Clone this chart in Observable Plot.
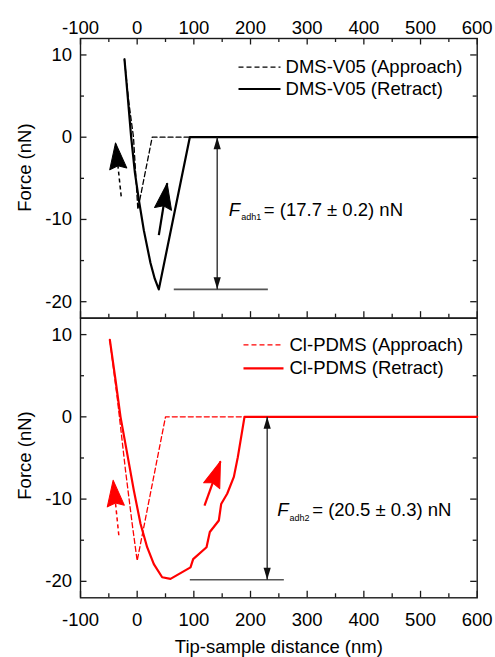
<!DOCTYPE html>
<html>
<head>
<meta charset="utf-8">
<script src="https://cdn.jsdelivr.net/npm/d3@7"></script>
<script src="https://cdn.jsdelivr.net/npm/@observablehq/plot@0.6"></script>
<style>
  html, body { margin: 0; padding: 0; background: #fff; }
  #chart { width: 495px; height: 657px; }
</style>
</head>
<body>
<div id="chart"></div>
<script>
// ---------- data ----------
const panels = ["DMS-V05", "Cl-PDMS"];
const panelColors = ["#000000", "#ff0000"];

const xTickValues = [-100, 0, 100, 200, 300, 400, 500, 600];
const xMinorValues = [-50, 50, 150, 250, 350, 450, 550];
const yTickValues = [-20, -10, 0, 10];
const yMinorValues = [-15, -5, 5];

const xLabel = "Tip-sample distance (nm)";
const yLabel = "Force (nN)";

// DMS-V05 approach (dashed) and retract (solid)
const dmsApproachX = [-22.4, -15, -6.5, 1.2, 26.5, 600];
const dmsApproachY = [9.4, 4.4, 0, -8.8, 0, 0];
const dmsRetractX = [-22.4, -16.5, -10.6, -4, 2.9, 11.7, 23.5, 31, 38.2, 92.9, 600];
const dmsRetractY = [9.48, 4.8, 0, -4.3, -7.6, -11.3, -15.3, -17.2, -18.5, 0, 0];

// Cl-PDMS approach (dashed) and retract (solid)
const clApproachX = [-48.2, -35.3, -20.6, -8.8, 0, 50, 600];
const clApproachY = [9.35, 2.4, -6.5, -13.0, -17.5, 0, 0];
const clRetractX = [-48.2, -38.2, -29.4, -17.6, -5.9, 5.9, 17.6, 29.4, 44.1, 58.8, 94.1, 98.8, 122.4, 128.2, 144.1, 148.2, 158.8, 170.6, 177.6, 189.4, 600];
const clRetractY = [9.35, 4.48, 0, -4.47, -8.94, -13.0, -15.85, -17.9, -19.5, -19.7, -18.3, -17.3, -15.85, -14.0, -12.6, -10.6, -9.35, -7.3, -4.9, 0, 0];

// direction arrows: panel index, tail, tip, dashed?
const arrowPanel = [0, 0, 1, 1];
const arrowTailX = [-28.2, 38.2, -32.4, 118.8];
const arrowTailY = [-7.2, -11.9, -14.4, -10.8];
const arrowTipX = [-38.2, 53.0, -42.4, 147.0];
const arrowTipY = [-0.7, -5.6, -7.7, -5.4];
const arrowDashed = [true, false, true, false];

// adhesion-force annotation
const adhX = [141.2, 229.4];
const adhTop = [0, 0];
const adhBottom = [-18.5, -19.8];
const adhBaseX1 = [64.6, 92.9];
const adhBaseX2 = [230.6, 258.8];
const adhTextX = [161.7, 247.1];
const adhTextY = [-8.8, -11.3];
const adhSub = ["adh1", "adh2"];
const adhValue = ["= (17.7 \u00b1 0.2) nN", "= (20.5 \u00b1 0.3) nN"];

// legends
const legendLineX1 = [178.8, 187.6];
const legendLineX2 = [252.9, 258.2];
const legendTextX = [261.8, 268.8];
const legendApproachY = [8.53, 8.74];
const legendRetractY = [5.86, 5.9];
const legendApproachText = ["DMS-V05 (Approach)", "Cl-PDMS (Approach)"];
const legendRetractText = ["DMS-V05 (Retract)", "Cl-PDMS (Retract)"];

const forceLabelY = [-3.7, -4.7];

// ---------- layout ----------
const W = 495, H = 657;
const mL = 80, mR = 18.3, mT = 38, mB = 59.7;
const frameW = W - mL - mR;
const facetH = (H - mT - mB) / 2;
const xDomain = [-100, 600], yDomain = [-22, 12];
const kx = frameW / (xDomain[1] - xDomain[0]);
const ky = facetH / (yDomain[1] - yDomain[0]);
const screenAngle = (x1, y1, x2, y2) => Math.atan2((x2 - x1) * kx, (y2 - y1) * ky) * 180 / Math.PI;

const headShape = (wRatio, notch) => ({
  draw(ctx, l) {
    const w = l * wRatio;
    ctx.moveTo(0, -l);
    ctx.lineTo(w, 0);
    ctx.lineTo(0, -l * notch);
    ctx.lineTo(-w, 0);
    ctx.closePath();
  }
});

const series = (pi, xs, ys) => xs.map((x, i) => ({panel: panels[pi], x, y: ys[i]}));

const arrows = arrowPanel.map((p, i) => ({
  panel: panels[p], color: panelColors[p], dashed: arrowDashed[i],
  x1: arrowTailX[i], y1: arrowTailY[i], x2: arrowTipX[i], y2: arrowTipY[i],
  angle: screenAngle(arrowTailX[i], arrowTailY[i], arrowTipX[i], arrowTipY[i])
}));

const adh = panels.map((p, i) => ({
  panel: p, x: adhX[i], top: adhTop[i], bottom: adhBottom[i],
  bx1: adhBaseX1[i], bx2: adhBaseX2[i], tx: adhTextX[i], ty: adhTextY[i],
  sub: adhSub[i], value: adhValue[i]
}));

const legend = panels.map((p, i) => ({
  panel: p, x1: legendLineX1[i], x2: legendLineX2[i], tx: legendTextX[i],
  ya: legendApproachY[i], yr: legendRetractY[i],
  ta: legendApproachText[i], tr: legendRetractText[i], color: panelColors[i]
}));

const topTicks = xTickValues.map(v => ({panel: panels[0], x: v}));
const topMinor = xMinorValues.map(v => ({panel: panels[0], x: v}));

const fmt = d => String(d);
const axisColor = "#1a1a1a";
const marks = [
  Plot.frame({stroke: axisColor, strokeWidth: 1.4}),
  // inward ticks
  Plot.tickX(xTickValues, {x: d => d, insetTop: facetH - 6.5, stroke: axisColor, strokeWidth: 1.3}),
  Plot.tickX(xMinorValues, {x: d => d, insetTop: facetH - 4, stroke: axisColor, strokeWidth: 1.3}),
  Plot.tickX(topTicks, {x: "x", fy: "panel", insetBottom: facetH - 6.5, stroke: axisColor, strokeWidth: 1.3}),
  Plot.tickX(topMinor, {x: "x", fy: "panel", insetBottom: facetH - 4, stroke: axisColor, strokeWidth: 1.3}),
  Plot.tickY(yTickValues, {y: d => d, insetRight: frameW - 6.5, stroke: axisColor, strokeWidth: 1.3}),
  Plot.tickY(yMinorValues, {y: d => d, insetRight: frameW - 4, stroke: axisColor, strokeWidth: 1.3}),
  Plot.tickY(yTickValues, {y: d => d, insetLeft: frameW - 6.5, stroke: axisColor, strokeWidth: 1.3}),
  Plot.tickY(yMinorValues, {y: d => d, insetLeft: frameW - 4, stroke: axisColor, strokeWidth: 1.3}),
  // tick labels
  Plot.axisX(xTickValues, {anchor: "top", tickSize: 0, tickPadding: 5, label: null, tickFormat: fmt, fill: "#000"}),
  Plot.axisX(xTickValues, {anchor: "bottom", tickSize: 0, tickPadding: 15.5, label: null, tickFormat: fmt, fill: "#000"}),
  Plot.axisY(yTickValues, {anchor: "left", tickSize: 0, tickPadding: 8.5, label: null, tickFormat: fmt, fill: "#000"}),
  // axis titles
  Plot.text(panels.map((p, i) => ({panel: p, y: forceLabelY[i]})), {
    fy: "panel", y: "y", frameAnchor: "left", dx: -55, rotate: -90, text: () => yLabel, textAnchor: "middle", fill: "#000"
  }),
  Plot.text([{panel: panels[1]}], {fy: "panel", frameAnchor: "bottom", dy: 55, text: () => xLabel, fill: "#000"}),
];

// curves
const curves = [
  [0, dmsApproachX, dmsApproachY, true],
  [0, dmsRetractX, dmsRetractY, false],
  [1, clApproachX, clApproachY, true],
  [1, clRetractX, clRetractY, false]
];
for (const [pi, xs, ys, dashed] of curves) {
  marks.push(Plot.line(series(pi, xs, ys), {
    x: "x", y: "y", fy: "panel", stroke: panelColors[pi],
    strokeWidth: dashed ? 1.3 : 2.2,
    strokeDasharray: dashed ? "5,3" : null,
    strokeLinejoin: "round"
  }));
}

// direction arrows
for (let pi = 0; pi < panels.length; pi++) {
  const a = arrows.filter(d => d.panel === panels[pi]);
  marks.push(
    Plot.link(a.filter(d => d.dashed), {x1: "x1", y1: "y1", x2: "x2", y2: "y2", fy: "panel", stroke: panelColors[pi], strokeWidth: 1.5, strokeDasharray: "4,3"}),
    Plot.link(a.filter(d => !d.dashed), {x1: "x1", y1: "y1", x2: "x2", y2: "y2", fy: "panel", stroke: panelColors[pi], strokeWidth: 2.2}),
    Plot.vector(a, {x: "x2", y: "y2", fy: "panel", rotate: "angle", length: 26, anchor: "end",
      shape: headShape(0.33, 0.12), fill: panelColors[pi], stroke: panelColors[pi], strokeWidth: 1, strokeLinejoin: "round"})
  );
}

// adhesion annotation
marks.push(
  Plot.link(adh, {x1: "bx1", x2: "bx2", y1: "bottom", y2: "bottom", fy: "panel", stroke: "#555", strokeWidth: 1.6}),
  Plot.link(adh, {x1: "x", x2: "x", y1: "top", y2: "bottom", fy: "panel", stroke: "#222", strokeWidth: 1.3}),
  Plot.vector(adh, {x: "x", y: "top", fy: "panel", rotate: 0, length: 12, anchor: "end", shape: headShape(0.3, 0), fill: "#111", stroke: "none"}),
  Plot.vector(adh, {x: "x", y: "bottom", fy: "panel", rotate: 180, length: 12, anchor: "end", shape: headShape(0.3, 0), fill: "#111", stroke: "none"}),
  Plot.text(adh, {x: "tx", y: "ty", fy: "panel", text: () => "F", fontStyle: "italic", textAnchor: "start", fill: "#000"}),
  Plot.text(adh, {x: "tx", y: "ty", fy: "panel", text: "sub", dx: 12.4, dy: 8, fontSize: 9, textAnchor: "start", fill: "#000"}),
  Plot.text(adh, {x: "tx", y: "ty", fy: "panel", text: "value", dx: 35, textAnchor: "start", fill: "#000"})
);

// legends
for (let pi = 0; pi < panels.length; pi++) {
  const l = legend.filter(d => d.panel === panels[pi]);
  marks.push(
    Plot.link(l, {x1: "x1", x2: "x2", y1: "ya", y2: "ya", fy: "panel", stroke: panelColors[pi], strokeWidth: 1.3, strokeDasharray: "5,3"}),
    Plot.link(l, {x1: "x1", x2: "x2", y1: "yr", y2: "yr", fy: "panel", stroke: panelColors[pi], strokeWidth: 2.2}),
    Plot.text(l, {x: "tx", y: "ya", fy: "panel", text: "ta", textAnchor: "start", fill: "#000"}),
    Plot.text(l, {x: "tx", y: "yr", fy: "panel", text: "tr", textAnchor: "start", fill: "#000"})
  );
}

const chart = Plot.plot({
  width: W, height: H,
  marginLeft: mL, marginRight: mR, marginTop: mT, marginBottom: mB,
  x: {domain: xDomain, axis: null},
  y: {domain: yDomain, axis: null},
  fy: {domain: panels, padding: 0, round: false, axis: null},
  style: {fontFamily: "'Liberation Sans', Arial, Helvetica, sans-serif", fontSize: "18.5px", background: "#fff", color: "#000", overflow: "visible"},
  marks
});
document.getElementById("chart").appendChild(chart);
</script>
</body>
</html>
